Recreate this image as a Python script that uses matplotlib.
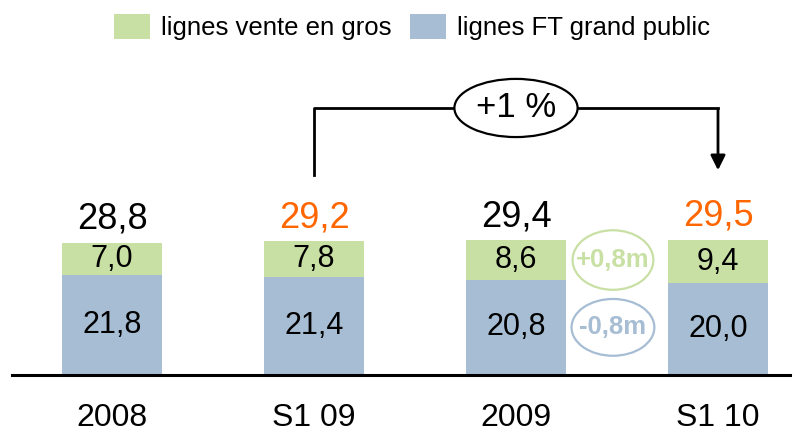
import matplotlib
matplotlib.use('Agg')
from matplotlib import pyplot as plt
from matplotlib.patches import Ellipse, Patch

plt.rcParams['font.family'] = ['Liberation Sans', 'DejaVu Sans']

# data
categories = ['2008', 'S1 09', '2009', 'S1 10']
grand_public = [21.8, 21.4, 20.8, 20.0]
vente_en_gros = [7.0, 7.8, 8.6, 9.4]
totals = [28.8, 29.2, 29.4, 29.5]
total_colors = ['black', '#FF6600', 'black', '#FF6600']
growth_label = '+1 %'
delta_gros = '+0,8m'
delta_gp = '-0,8m'

green = '#C9E0A5'
blue = '#A6BDD3'

def fr(v):
    return ('%.1f' % v).replace('.', ',')

fig = plt.figure(figsize=(8.05, 4.33), dpi=100)
ax = fig.add_axes([0, 58 / 433, 1, 375 / 433])
ax.set_xlim(-112 / 202, 693 / 202)
ax.set_ylim(0, 375 / 4.58)
ax.axis('off')

x = list(range(len(categories)))
w = 0.495
ax.bar(x, grand_public, width=w, color=blue, linewidth=0)
ax.bar(x, vente_en_gros, width=w, bottom=grand_public, color=green, linewidth=0)

# baseline
ax.plot([-0.495, 3.356], [0, 0], color='black', lw=2.2, clip_on=False)

for i in x:
    ax.text(i, grand_public[i] / 2, fr(grand_public[i]), ha='center', va='center', fontsize=22)
    ax.text(i, grand_public[i] + vente_en_gros[i] / 2, fr(vente_en_gros[i]),
            ha='center', va='center', fontsize=22)
    ax.annotate(fr(totals[i]), (i, totals[i]), xytext=(0, 17), textcoords='offset points',
                ha='center', va='center', fontsize=26, color=total_colors[i])
    ax.annotate(categories[i], (i, 0), xytext=(0, -31), textcoords='offset points',
                ha='center', va='center', fontsize=23)

# growth bracket from S1 09 to S1 10
level = 58.3
ax.plot([1, 1, 3], [43.7, level, level], color='black', lw=2)
ax.annotate('', xy=(3, 44.1), xytext=(3, level + 0.2),
            arrowprops=dict(arrowstyle='-|>', color='black', lw=2, mutation_scale=22))
ax.add_patch(Ellipse((2, level), 0.61, 12.7, facecolor='white', edgecolor='black', lw=1.6, zorder=3))
ax.text(2, level, growth_label, ha='center', va='center', fontsize=25, zorder=4)

# deltas between 2009 and S1 10
yg = grand_public[2] + vente_en_gros[2] / 2
yb = grand_public[2] / 2
ax.add_patch(Ellipse((2.48, yg), 0.40, 13.0, facecolor='none', edgecolor=green, lw=1.6))
ax.text(2.48, yg, delta_gros, ha='center', va='center', fontsize=18.5, color=green, fontweight='bold')
ax.add_patch(Ellipse((2.48, yb), 0.41, 12.4, facecolor='none', edgecolor=blue, lw=1.6))
ax.text(2.48, yb, delta_gp, ha='center', va='center', fontsize=18.5, color=blue, fontweight='bold')

handles = [Patch(facecolor=green, label='lignes vente en gros'),
           Patch(facecolor=blue, label='lignes FT grand public')]
fig.legend(handles=handles, loc='center', bbox_to_anchor=(412 / 805, 1 - 27 / 433), ncol=2, frameon=False,
           fontsize=18.5, handlelength=1.4, handleheight=1.1, handletextpad=0.4, columnspacing=0.75,
           borderpad=0, borderaxespad=0)

fig.savefig('out.png', dpi=100)
